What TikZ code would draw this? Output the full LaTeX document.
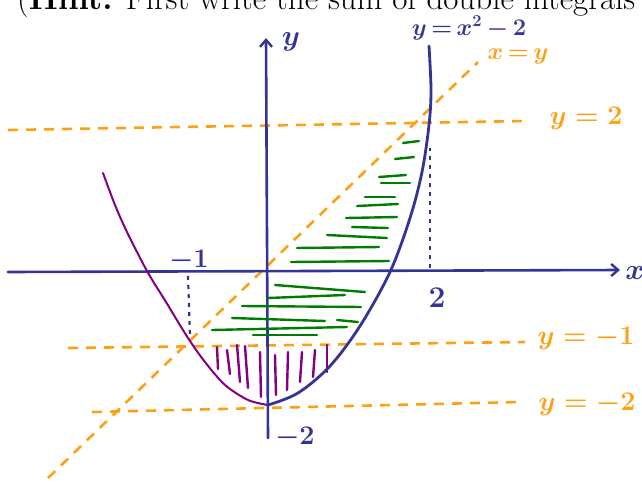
\documentclass[tikz,border=0pt]{standalone}
\usetikzlibrary{arrows.meta}
\definecolor{axblue}{RGB}{52,52,150}
\definecolor{hlorange}{RGB}{255,160,20}
\definecolor{hgreen}{RGB}{0,125,0}
\definecolor{hpurple}{RGB}{130,0,130}
\newcommand{\tightop}[1]{\mkern3mu{#1}\mkern3mu}
\begin{document}
\begin{tikzpicture}[x=1pt,y=-1pt,
  axisline/.style={axblue,line width=2.6pt,line cap=round,-{Straight Barb[length=7pt,width=12pt,line width=2.4pt]}},
  bluecurve/.style={axblue,line width=2.8pt,line cap=round,line join=round},
  purplecurve/.style={hpurple,line width=2pt,line cap=round,line join=round},
  bluedot/.style={axblue,line width=2.2pt,dash pattern=on 4pt off 5pt},
  orangedash/.style={hlorange,line width=2.6pt,dash pattern=on 10pt off 8pt},
  ghatch/.style={hgreen,line width=2.4pt,line cap=round},
  phatch/.style={hpurple,line width=2.4pt,line cap=round},
  blbl/.style={text=axblue,font=\fontsize{20}{22}\selectfont\boldmath,inner sep=0pt},
  olbl/.style={text=hlorange,font=\fontsize{20}{22}\selectfont\boldmath,inner sep=0pt}]
\useasboundingbox (0,0) rectangle (642,482);
\clip (0,0) rectangle (642,482);
% top text (cut off)
\node[anchor=base west,inner sep=0pt,font=\fontsize{33}{35}\selectfont] (hint) at (17,9) {(\textbf{Hint:} First write the sum of double integrals};
% orange dashed lines
\coordinate (y2a) at (8,130); \coordinate (y2b) at (525,121);
\coordinate (xya) at (48,478); \coordinate (xyb) at (478,62);
\coordinate (m1a) at (68,348); \coordinate (m1b) at (525,342);
\coordinate (m2a) at (92,412); \coordinate (m2b) at (520,402);
\draw[orangedash] (y2a) -- (y2b);
\draw[orangedash] (xya) -- (xyb);
\draw[orangedash] (m1a) -- (m1b);
\draw[orangedash] (m2a) -- (m2b);
% axes
\coordinate (xa) at (8,272); \coordinate (xb) at (620,270);
\coordinate (ya) at (268,438); \coordinate (yb) at (266,38);
\draw[axisline] (xa) -- (xb);
\draw[axisline] (ya) -- (yb);
% dotted guides
\coordinate (d2a) at (430,268); \coordinate (d2b) at (430,148);
\coordinate (d1a) at (188,276); \coordinate (d1b) at (190,336);
\draw[bluedot] (d2a) -- (d2b);
\draw[bluedot] (d1a) -- (d1b);
% green hatching
\foreach \a/\b/\c/\d in {403/143/419/141, 395/159/414/157, 379/177/406/175, 381/183/410/183,
  365/197/395/197, 357/206/398/204, 346/218/397/217, 352/227/388/228, 327/235/387/238,
  297/248/379/247, 291/262/389/261, 275/285/365/292, 268/298/345/295, 242/306/361/307,
  232/318/325/321, 337/320/358/322, 212/330/347/327, 253/335/317/335}
  \draw[ghatch] (\a,\b) -- (\c,\d);
% purple hatching
\foreach \a/\b/\c/\d in {217/347/218/369, 227/350/230/374, 237/345/240/382, 245/346/248/388,
  260/352/261/397, 275/355/276/395, 288/352/287/390, 302/352/300/382, 315/350/313/377, 327/345/327/372}
  \draw[phatch] (\a,\b) -- (\c,\d);
% purple curve
\draw[purplecurve] plot[smooth,tension=0.5] coordinates {(103,173) (115,205) (127,232) (147,271) (166,302) (188,338) (205,362) (225,385) (248,400) (268,405)};
% blue curve
\draw[bluecurve] plot[smooth,tension=0.55] coordinates {(268,405) (298,393) (330,366) (360,326) (390,272) (410,218) (422,172) (429,125) (431,90) (429,46)};
% labels
\node[blbl,scale=1.4] (xlab) at (635,273) {$x$};
\node[blbl,scale=1.4] (ylab) at (291,42) {$y$};
\node[blbl,scale=1.15] (parlab) at (469,28) {$y\tightop{=}x^2\tightop{-}2$};
\node[olbl,scale=1.15] (xylab) at (518,57) {$x\tightop{=}y$};
\node[olbl,scale=1.3] (y2lab) at (586,118) {$y=2$};
\node[olbl,scale=1.3] (m1lab) at (586,338) {$y=-1$};
\node[olbl,scale=1.3] (m2lab) at (587,404) {$y=-2$};
\node[blbl,scale=1.45] (two) at (437,298) {$2$};
\node[blbl,scale=1.3] (mone) at (189,261) {$-1$};
\node[blbl,scale=1.3] (mtwo) at (295,438) {$-2$};
\end{tikzpicture}
\end{document}
